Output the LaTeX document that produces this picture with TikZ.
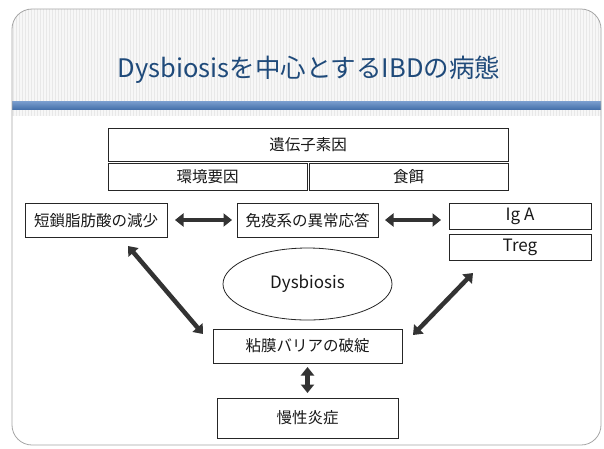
\documentclass[tikz,border=0pt]{standalone}
\usepackage{fontspec}
\setmainfont{Noto Sans CJK JP}
\usetikzlibrary{arrows.meta,shapes.geometric}
\definecolor{titleblue}{HTML}{1F4A7A}
\definecolor{barblue}{HTML}{4F7FBF}
\definecolor{arrowgray}{HTML}{333333}
\tikzset{
  box/.style={draw=black!85, line width=0.8pt, inner sep=0pt, font=\fontsize{15.5}{18}\selectfont, text=black!90},
  latinbox/.style={box, font=\fontsize{17}{20}\selectfont},
  dblarrow/.style={draw=arrowgray, line width=4.5pt, {Triangle[length=8.5pt,width=13pt]}-{Triangle[length=8.5pt,width=13pt]}, shorten >=0pt, shorten <=0pt},
}
\begin{document}
\begin{tikzpicture}[x=1pt,y=-1pt]
\useasboundingbox (0,0) rectangle (604,448);
\fill[white] (0,0) rectangle (604,448);
% frame background with stripes
\begin{scope}
\clip[rounded corners=20pt] (12,9) rectangle (601,445);
\fill[gray!6] (12,9) rectangle (601,118);
\foreach \x in {13,16,...,601} {
  \draw[gray!18, line width=0.5pt] (\x,9) -- (\x,118);
}
\fill[white] (12,116) rectangle (601,445);
\shade[top color=barblue!75!white, bottom color=barblue!90!black] (12,101) rectangle (601,109);
\end{scope}
\draw[gray!70, line width=0.8pt, rounded corners=20pt] (12,9) rectangle (601,445);
% title
\node[text=titleblue, font=\fontsize{25.5}{30}\selectfont] (title) at (309,70) {Dysbiosisを中心とするIBDの病態};
% boxes
\node[box, minimum width=400pt, minimum height=33pt] (gene) at (308,144.5) {遺伝子素因};
\node[box, minimum width=199pt, minimum height=27pt] (env) at (207.5,176.5) {環境要因};
\node[box, minimum width=199pt, minimum height=27pt] (food) at (408.5,176.5) {食餌};
\node[box, minimum width=142pt, minimum height=34pt] (scfa) at (96,220.5) {短鎖脂肪酸の減少};
\node[box, minimum width=141pt, minimum height=34pt] (immune) at (307.5,220.5) {免疫系の異常応答};
\node[latinbox, minimum width=142pt, minimum height=26pt] (iga) at (520,216) {Ig A};
\node[latinbox, minimum width=142pt, minimum height=26pt] (treg) at (520,247) {Treg};
\node[latinbox, ellipse, minimum width=169pt, minimum height=72pt] (dys) at (307.5,284) {Dysbiosis};
\node[box, minimum width=189pt, minimum height=34pt] (barrier) at (307.5,346) {粘膜バリアの破綻};
\node[box, minimum width=181pt, minimum height=40pt] (chronic) at (307.5,418) {慢性炎症};
% arrows
\coordinate (a1s) at (175,220); \coordinate (a1e) at (232,220);
\coordinate (a2s) at (385,220); \coordinate (a2e) at (441,220);
\coordinate (a3s) at (128,246); \coordinate (a3e) at (203,334);
\coordinate (a4s) at (473,273); \coordinate (a4e) at (413,335);
\coordinate (a5s) at (307.5,367); \coordinate (a5e) at (307.5,393);
\draw[dblarrow] (a1s) -- (a1e);
\draw[dblarrow] (a2s) -- (a2e);
\draw[dblarrow] (a3s) -- (a3e);
\draw[dblarrow] (a4s) -- (a4e);
\draw[dblarrow] (a5s) -- (a5e);
\end{tikzpicture}
\end{document}
